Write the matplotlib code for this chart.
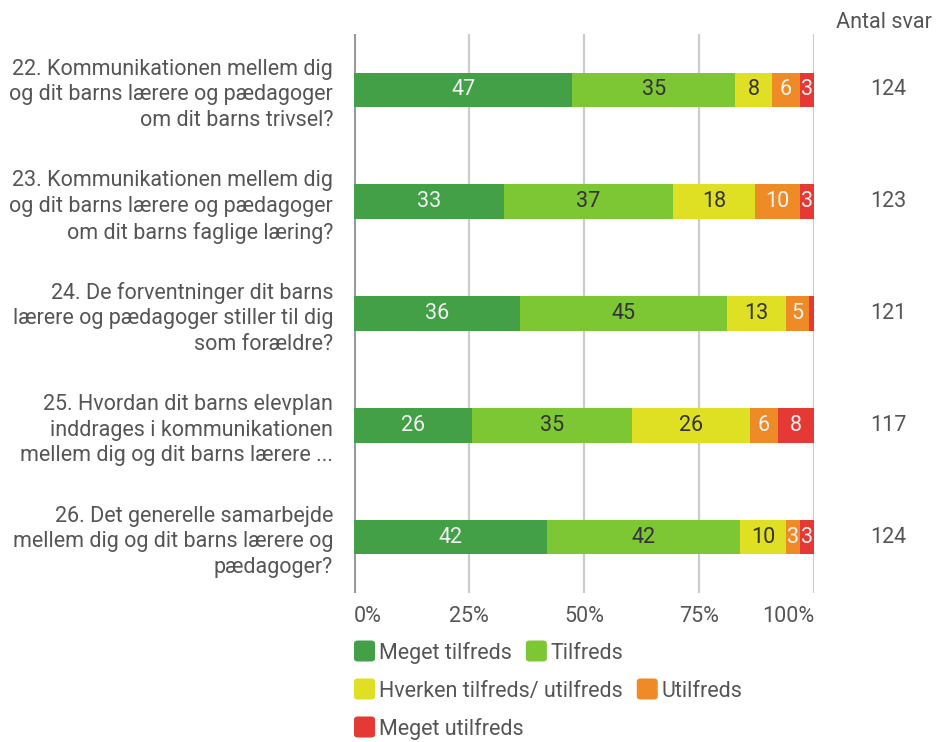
import matplotlib
matplotlib.use("Agg")
import matplotlib.pyplot as plt
from matplotlib.patches import FancyBboxPatch
import matplotlib.transforms as mtransforms
import numpy as np

plt.rcParams["font.family"] = ["Roboto", "DejaVu Sans"]

# ------------------------------------------------------------
# Data (procent pr. svarkategori, antal svar)
# ------------------------------------------------------------
spoergsmaal = [
    "22. Kommunikationen mellem dig\nog dit barns lærere og pædagoger\nom dit barns trivsel?",
    "23. Kommunikationen mellem dig\nog dit barns lærere og pædagoger\nom dit barns faglige læring?",
    "24. De forventninger dit barns\nlærere og pædagoger stiller til dig\nsom forældre?",
    "25. Hvordan dit barns elevplan\ninddrages i kommunikationen\nmellem dig og dit barns lærere ...",
    "26. Det generelle samarbejde\nmellem dig og dit barns lærere og\npædagoger?",
]
kategorier = ["Meget tilfreds", "Tilfreds", "Hverken tilfreds/ utilfreds",
              "Utilfreds", "Meget utilfreds"]
meget_tilfreds = [47, 33, 36, 26, 42]
tilfreds = [35, 37, 45, 35, 42]
hverken = [8, 18, 13, 26, 10]
utilfreds = [6, 10, 5, 6, 3]
meget_utilfreds = [3, 3, 1, 8, 3]
antal_svar = [124, 123, 121, 117, 124]

farver = ["#43A047", "#7CC733", "#DFE024", "#EF8B27", "#E53935"]
tekst_farver = ["#F2F2F2", "#333333", "#333333", "#F2F2F2", "#F2F2F2"]
grå = "#555555"
fs = 15.5

serier = np.array([meget_tilfreds, tilfreds, hverken, utilfreds, meget_utilfreds], dtype=float)
andel = serier / serier.sum(axis=0) * 100  # normaliser til 100 %

# ------------------------------------------------------------
# Figur
# ------------------------------------------------------------
fig = plt.figure(figsize=(9.36, 7.42), dpi=100)
ax = fig.add_axes([354 / 936, 1 - 593 / 742, 460 / 936, (593 - 34) / 742])

y = np.arange(len(spoergsmaal))
venstre = np.zeros(len(spoergsmaal))
for i in range(len(kategorier)):
    ax.barh(y, andel[i], left=venstre, height=0.31, color=farver[i], zorder=3)
    for j in range(len(y)):
        if serier[i, j] >= 2:
            ax.text(venstre[j] + andel[i, j] / 2, y[j], f"{serier[i, j]:.0f}",
                    ha="center", va="center", fontsize=fs,
                    color=tekst_farver[i], zorder=4)
    venstre += andel[i]

ax.set_xlim(0, 100)
ax.set_ylim(len(y) - 0.5, -0.5)
for s in ax.spines.values():
    s.set_visible(False)

# gitterlinjer
for xv in [0, 25, 50, 75, 100]:
    ax.axvline(xv, color="#999999" if xv == 0 else "#CCCCCC",
               linewidth=2.2 if xv == 0 else 1.6, zorder=1)

ax.set_xticks([0, 25, 50, 75, 100])
ax.set_xticklabels(["0%", "25%", "50%", "75%", "100%"])
ax.tick_params(axis="x", length=0, pad=9, labelsize=fs, labelcolor=grå)
xl = ax.get_xticklabels()
xl[0].set_ha("left")
xl[-1].set_ha("right")

ax.set_yticks(y)
ax.set_yticklabels(spoergsmaal, ha="right", multialignment="right")
ax.tick_params(axis="y", length=0, pad=15, labelsize=fs, labelcolor=grå)
for t in ax.get_yticklabels():
    t.set_linespacing(1.3)

# antal svar til højre
trans = mtransforms.blended_transform_factory(fig.transFigure, ax.transData)
for j, n in enumerate(antal_svar):
    ax.text(888 / 936, y[j], str(n), transform=trans, ha="center", va="center",
            fontsize=fs, color=grå)
fig.text(884 / 936, 1 - 22 / 742, "Antal svar", ha="center", va="center",
         fontsize=fs, color=grå)

# ------------------------------------------------------------
# Forklaring (flydende layout som i originalen)
# ------------------------------------------------------------
fig.canvas.draw()
renderer = fig.canvas.get_renderer()
W, H = 936, 742
rækker = [[0, 1], [2, 3], [4]]
række_y = [651, 689, 727]
for r, yy in zip(rækker, række_y):
    x = 354
    for k in r:
        boks = FancyBboxPatch((x / W, 1 - (yy + 10.5) / H), 21 / W, 21 / H,
                              boxstyle="round,pad=0,rounding_size=0.004",
                              transform=fig.transFigure, facecolor=farver[k],
                              edgecolor="none")
        fig.patches.append(boks)
        t = fig.text((x + 25) / W, 1 - yy / H, kategorier[k], ha="left",
                     va="center_baseline", fontsize=fs, color=grå)
        bb = t.get_window_extent(renderer)
        x = bb.x1 + 14

fig.savefig("out.png", dpi=100)
